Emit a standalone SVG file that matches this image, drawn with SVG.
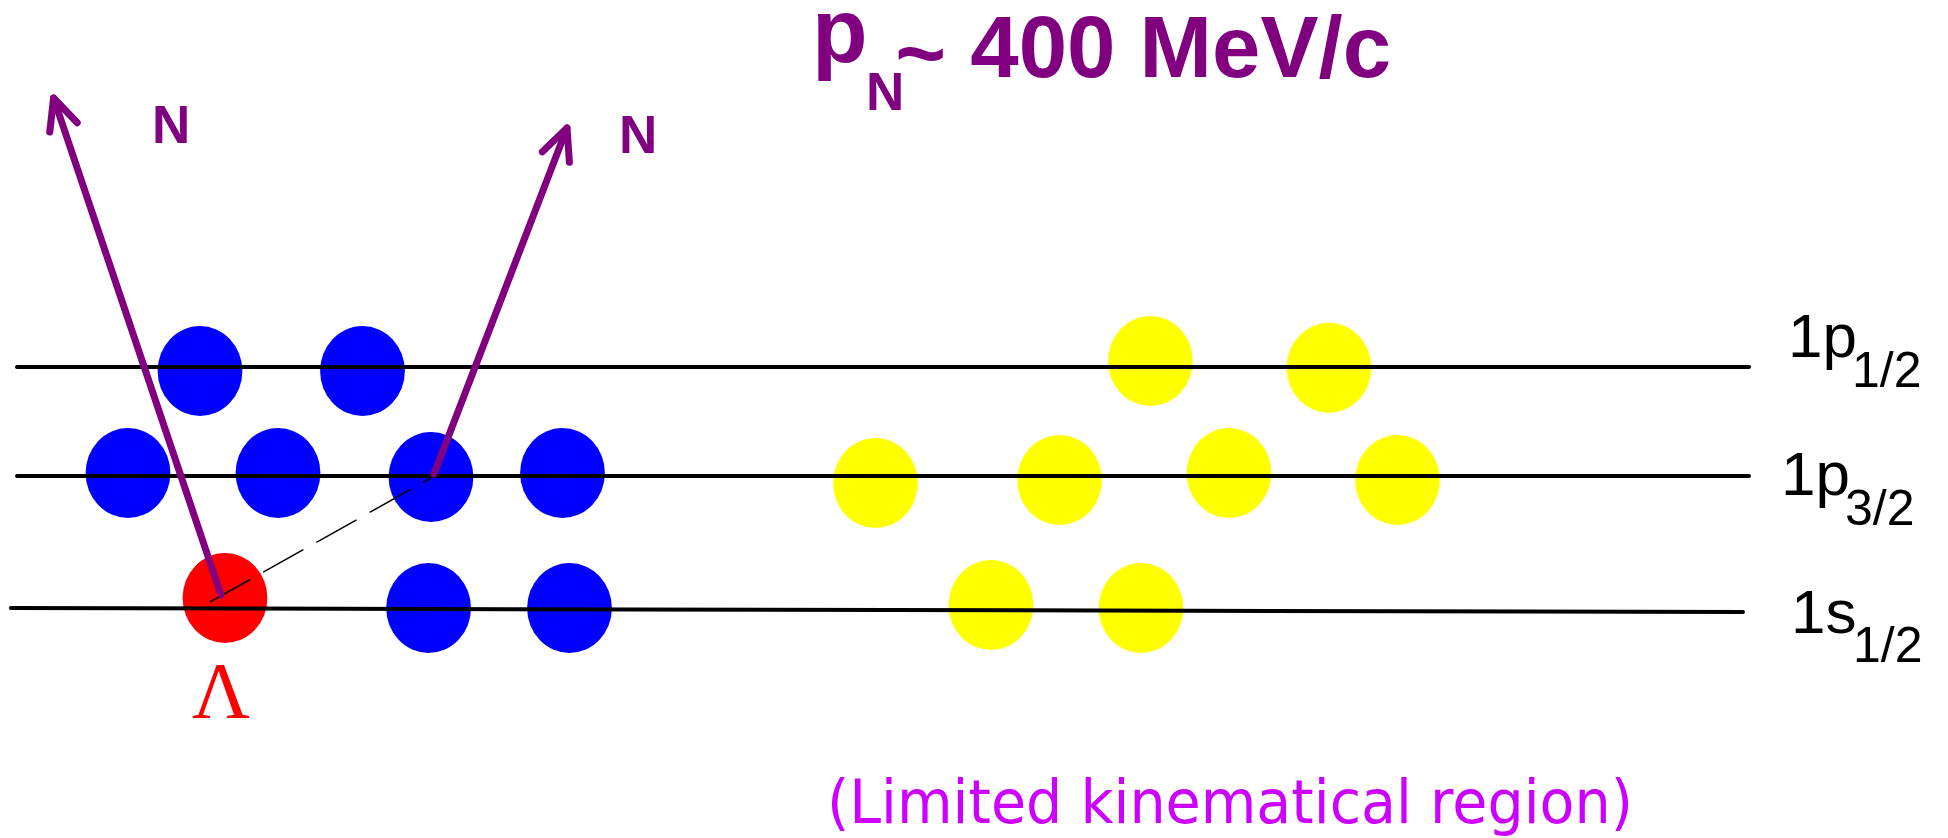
<svg xmlns="http://www.w3.org/2000/svg" width="1948" height="838" viewBox="0 0 1948 838">
<style>
.blue{fill:#0000FF}
.yellow{fill:#FFFF00}
.red{fill:#FF0000}
.level{stroke:#000;stroke-width:4;stroke-linecap:round;fill:none}
.arrow{stroke:#800080;stroke-width:7;stroke-linecap:round;stroke-linejoin:round;fill:none}
.dash{stroke:#000;stroke-width:1.5;stroke-dasharray:46 15;fill:none}
.purple{fill:#800080;font-family:"Liberation Sans",Arial,sans-serif;font-weight:bold}
.lab{fill:#000;font-family:"Liberation Sans",Arial,sans-serif}
</style>
<defs>
<marker id="head" markerUnits="userSpaceOnUse" orient="auto" refX="0" refY="0" markerWidth="60" markerHeight="60" viewBox="-40 -30 60 60" overflow="visible">
<path d="M-31,-14.5 L0,0 L-31,14.5" stroke="#800080" stroke-width="7" stroke-linecap="round" stroke-linejoin="round" fill="none"/>
</marker>
</defs>
<rect width="1948" height="838" fill="#fff"/>
<g id="title">
<text class="purple" x="812" y="62" font-size="91">p<tspan font-size="53" dx="-1.6" dy="48">N</tspan><tspan font-size="87" dx="-9" dy="-27">~</tspan><tspan font-size="87" dy="-6"> 400 MeV/c</tspan></text>
</g>
<g id="nucleons-blue">
<ellipse class="blue" cx="200" cy="371" rx="42.4" ry="45"/>
<ellipse class="blue" cx="362.5" cy="371" rx="42.4" ry="45"/>
<ellipse class="blue" cx="128" cy="473" rx="42.4" ry="45"/>
<ellipse class="blue" cx="278" cy="473" rx="42.4" ry="45"/>
<ellipse class="blue" cx="431" cy="477" rx="42.4" ry="45"/>
<ellipse class="blue" cx="562.5" cy="473" rx="42.4" ry="45"/>
<ellipse class="blue" cx="428.6" cy="608" rx="42.4" ry="45"/>
<ellipse class="blue" cx="569.5" cy="608" rx="42.4" ry="45"/>
</g>
<g id="lambda">
<ellipse class="red" cx="225" cy="598" rx="42.4" ry="45"/>
<text x="221" y="718" font-size="80" fill="#FF0000" text-anchor="middle" font-family="'Liberation Serif','Times New Roman',serif">Λ</text>
</g>
<g id="nucleons-yellow">
<ellipse class="yellow" cx="1150.4" cy="361" rx="42.4" ry="45"/>
<ellipse class="yellow" cx="1329" cy="367.7" rx="42.4" ry="45"/>
<ellipse class="yellow" cx="875.5" cy="483" rx="42.4" ry="45"/>
<ellipse class="yellow" cx="1059.6" cy="480" rx="42.4" ry="45"/>
<ellipse class="yellow" cx="1229" cy="473" rx="42.4" ry="45"/>
<ellipse class="yellow" cx="1397.5" cy="480" rx="42.4" ry="45"/>
<ellipse class="yellow" cx="991" cy="605" rx="42.4" ry="45"/>
<ellipse class="yellow" cx="1141" cy="608" rx="42.4" ry="45"/>
</g>
<g id="levels">
<line class="level" x1="17" y1="367" x2="1749" y2="367"/>
<line class="level" x1="17" y1="476" x2="1749" y2="476"/>
<line class="level" x1="11" y1="608" x2="1743" y2="612"/>
</g>
<g id="level-labels">
<text class="lab" x="1788" y="357" font-size="62">1p<tspan x="1852" y="387" font-size="50">1/2</tspan></text>
<text class="lab" x="1781" y="495" font-size="62">1p<tspan x="1845" y="525" font-size="50">3/2</tspan></text>
<text class="lab" x="1791" y="633" font-size="62">1s<tspan x="1853" y="662" font-size="50">1/2</tspan></text>
</g>
<g id="connectors">
<line class="dash" x1="210" y1="602" x2="431" y2="478"/>
<line class="arrow" x1="221" y1="595" x2="53.6" y2="98" marker-end="url(#head)"/>
<line class="arrow" x1="434" y1="474" x2="567" y2="128" marker-end="url(#head)"/>
</g>
<g id="n-labels">
<text class="purple" x="152" y="143" font-size="53">N</text>
<text class="purple" x="619" y="153" font-size="53">N</text>
</g>
<g id="note">
<text x="827" y="823" font-size="60" fill="#CC00FF" font-family="'Comic Sans MS','DejaVu Sans',sans-serif" textLength="806" lengthAdjust="spacingAndGlyphs">(Limited kinematical region)</text>
</g>
</svg>
